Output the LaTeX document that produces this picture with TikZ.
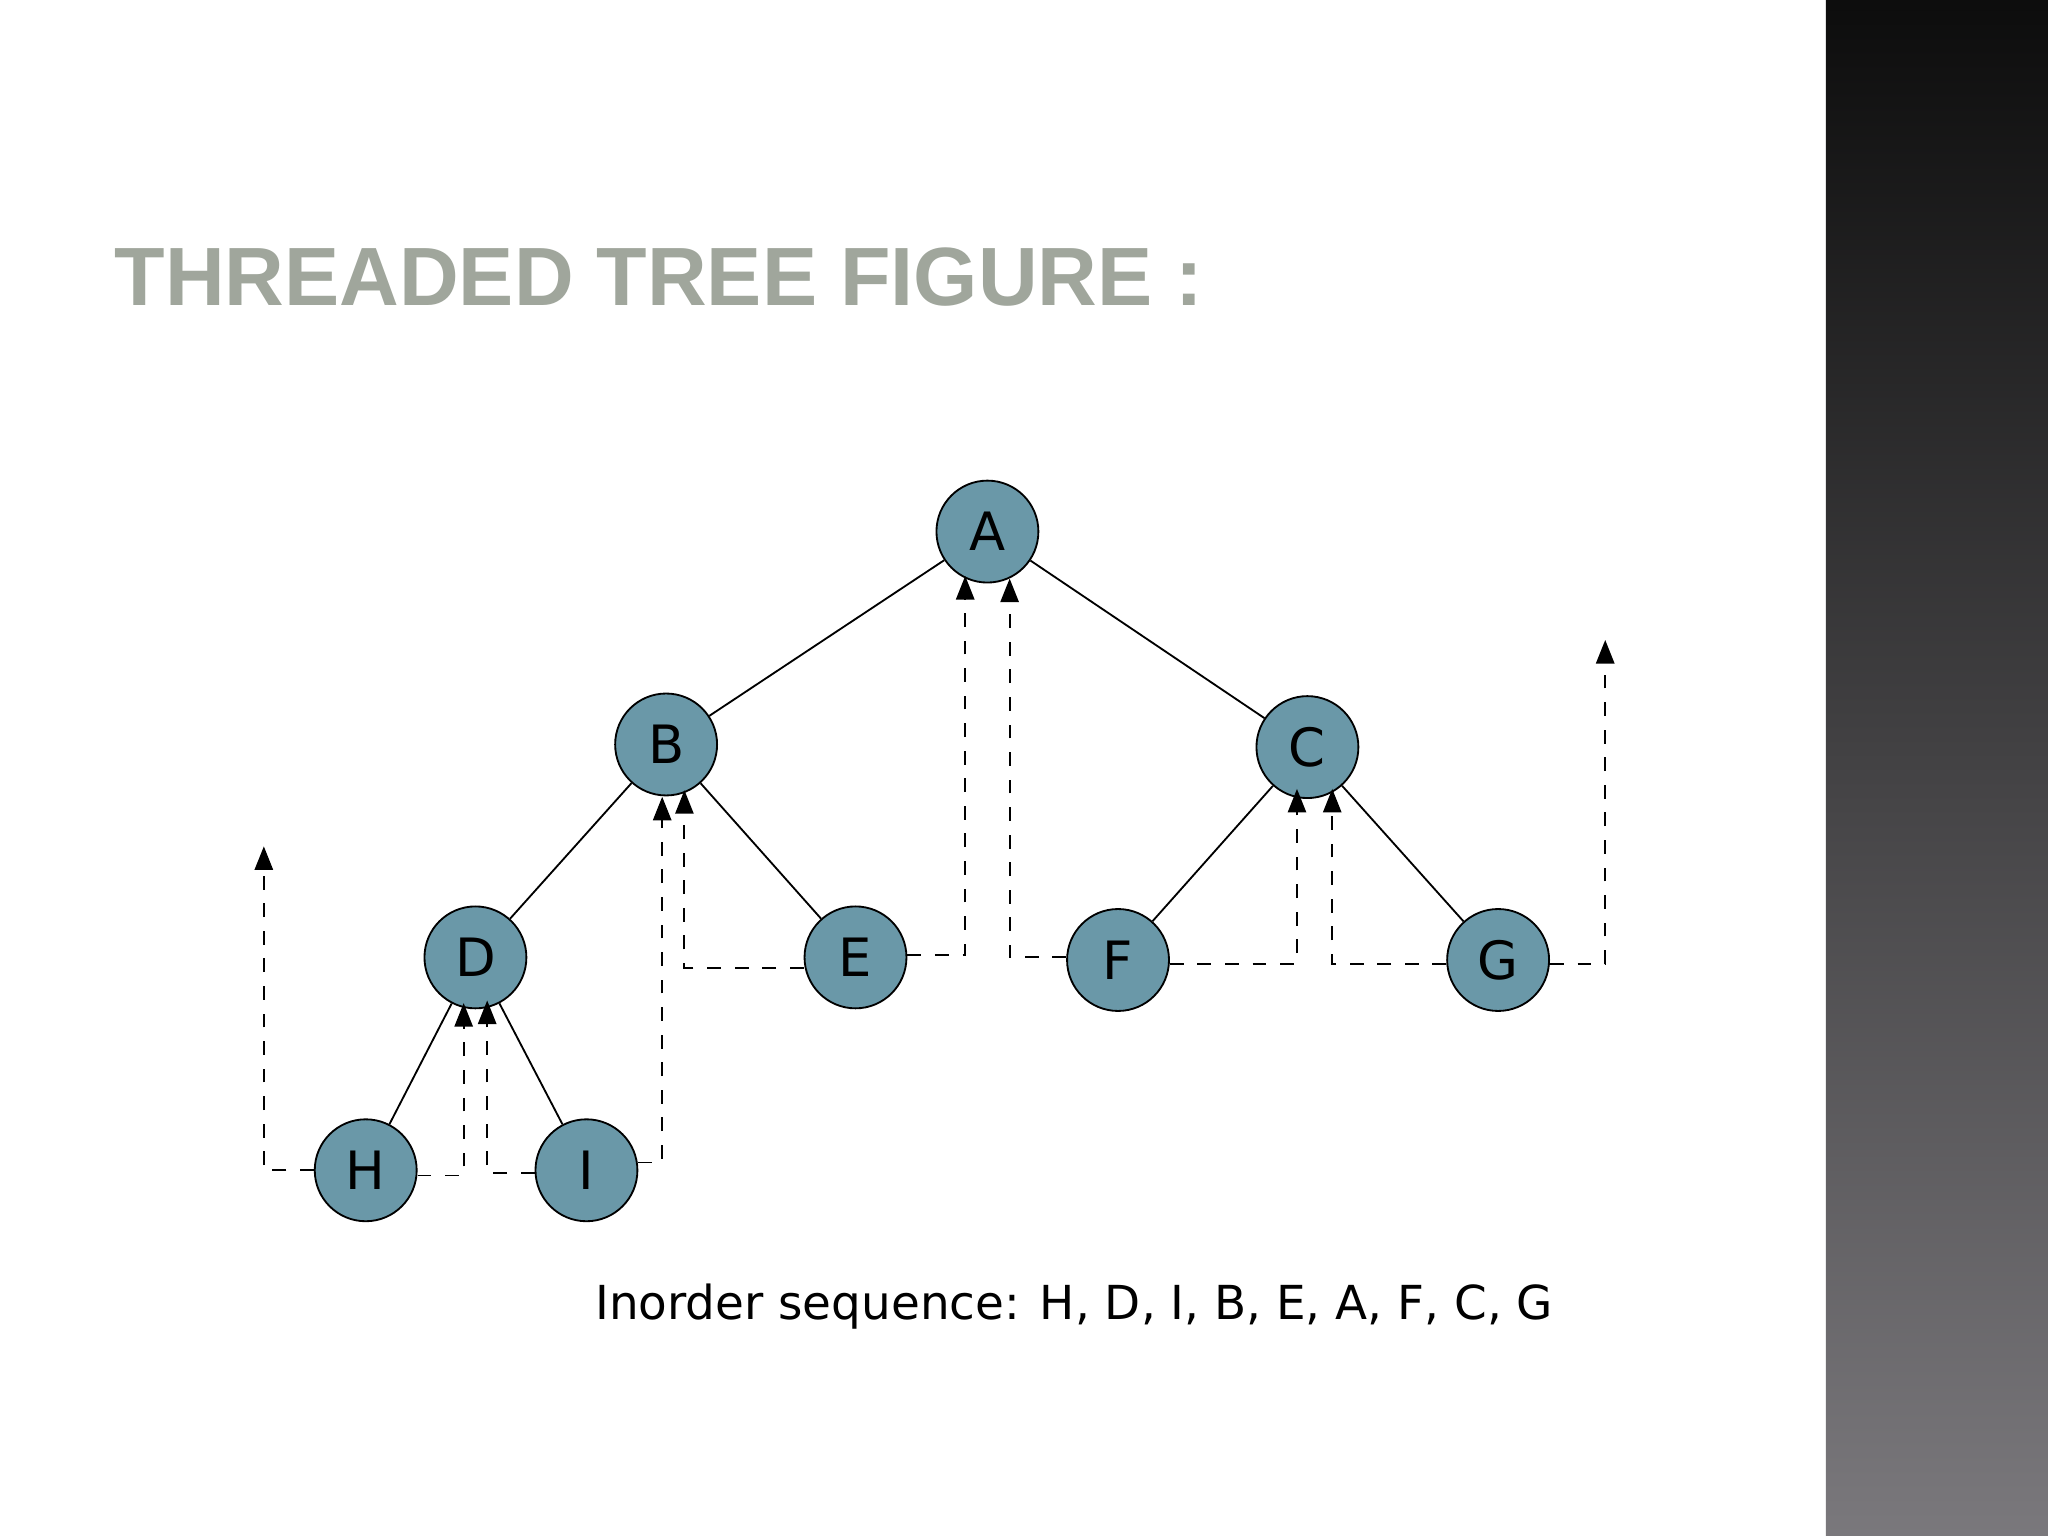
\documentclass[tikz,border=0pt]{standalone}
\usepackage{fontspec}
\setmainfont{DejaVu Sans}
\newfontfamily\titlefont{Liberation Sans}
\usetikzlibrary{arrows.meta}
\definecolor{nodeblue}{RGB}{106,152,168}
\definecolor{titlegray}{RGB}{160,166,156}
\tikzset{
  tnode/.style={circle,draw=black,fill=nodeblue,minimum size=0.78cm,inner sep=0pt,font=\fontsize{11.5}{11.5}\selectfont},
  thread/.style={dashed,thin,-{Triangle[length=1.8mm,width=1.4mm]}},
  edge/.style={thin}
}
\begin{document}
\begin{tikzpicture}[x=0.01cm,y=-0.01cm]
	\useasboundingbox (0,0) rectangle (1568,1176);
	\fill[white] (0,0) rectangle (1398,1176);
	\shade[top color=black!95,bottom color={rgb,255:red,122;green,120;blue,124}] (1398,0) rectangle (1568,1176);
	% title
	\node[anchor=west,text=titlegray,font=\titlefont\bfseries\fontsize{18}{18}\selectfont,inner sep=0pt] (title) at (87,212) {THREADED TREE FIGURE :};
	% nodes
	\node[tnode] (A) at (756,407) {A};
	\node[tnode] (B) at (510,570) {B};
	\node[tnode] (C) at (1001,572) {C};
	\node[tnode] (D) at (364,733) {D};
	\node[tnode] (E) at (655,733) {E};
	\node[tnode] (F) at (856,735) {F};
	\node[tnode] (G) at (1147,735) {G};
	\node[tnode] (H) at (280,896) {H};
	\node[tnode] (I) at (449,896) {I};
	% edges
	\draw[edge] (A) -- (B);
	\draw[edge] (A) -- (C);
	\draw[edge] (B) -- (D);
	\draw[edge] (B) -- (E);
	\draw[edge] (C) -- (F);
	\draw[edge] (C) -- (G);
	\draw[edge] (D) -- (H);
	\draw[edge] (D) -- (I);
	% free ends
	\coordinate (hnull) at (202,648);
	\coordinate (gnull) at (1229,490);
	% threads
	\draw[thread] (H.west |- 0,896) -- (202,896) -- (hnull);
	\draw[thread] (H.east |- 0,900) -- (355,900) -- (355,768);
	\draw[thread] (I.west |- 0,898) -- (373,898) -- (373,766);
	\draw[thread] (I.east |- 0,890) -- (507,890) -- (507,610);
	\draw[thread] (E.west |- 0,741) -- (524,741) -- (524,605);
	\draw[thread] (E.east |- 0,731) -- (739,731) -- (739,441);
	\draw[thread] (F.west |- 0,733) -- (773,733) -- (773,443);
	\draw[thread] (F.east |- 0,738) -- (993,738) -- (993,604);
	\draw[thread] (G.west |- 0,738) -- (1020,738) -- (1020,604);
	\draw[thread] (G.east |- 0,738) -- (1229,738) -- (gnull);
	% caption
	\node[anchor=west,font=\fontsize{10.2}{10.2}\selectfont,inner sep=0pt] (seq) at (455,1000) {Inorder sequence: H, D, I, B, E, A, F, C, G};
\end{tikzpicture}
\end{document}
